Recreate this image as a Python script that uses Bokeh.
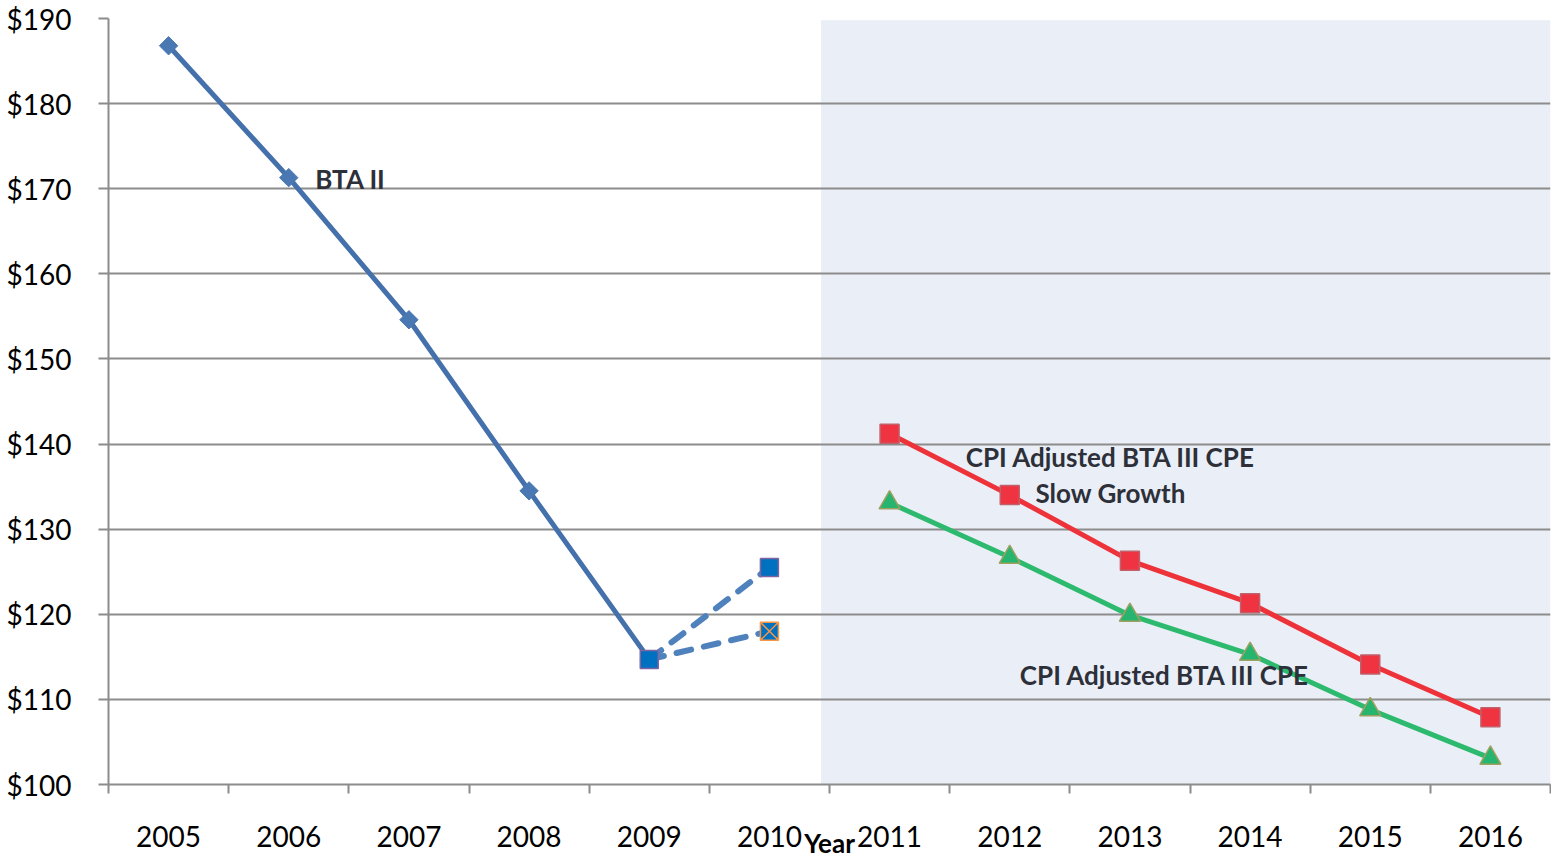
from bokeh.plotting import figure
from bokeh.models import Range1d, FixedTicker, BoxAnnotation, Label
from bokeh.embed import file_html
from bokeh.resources import INLINE

# ---- data ----
YEARS = [2005, 2006, 2007, 2008, 2009, 2010, 2011, 2012, 2013, 2014, 2015, 2016]
BTA2_YEARS = [2005, 2006, 2007, 2008, 2009]
BTA2_VALUES = [186.8, 171.3, 154.6, 134.5, 114.7]
PROJ_UP_YEARS = [2009, 2010]
PROJ_UP_VALUES = [114.7, 125.5]
PROJ_LOW_YEARS = [2009, 2010]
PROJ_LOW_VALUES = [114.7, 118.0]
CPE_YEARS = [2011, 2012, 2013, 2014, 2015, 2016]
SLOW_GROWTH_VALUES = [141.2, 134.0, 126.3, 121.3, 114.1, 107.9]
CPE_VALUES = [133.1, 126.7, 119.9, 115.3, 108.8, 103.1]
Y_TICKS = [100, 110, 120, 130, 140, 150, 160, 170, 180, 190]
Y_TICK_LABELS = ["$100", "$110", "$120", "$130", "$140", "$150", "$160", "$170", "$180", "$190"]
X_TICK_LABELS = [str(y) for y in YEARS]

FONT = "Lato"
GRID = "#8c8c8c"

p = figure(width=1551, height=861, output_backend="svg", toolbar_location=None,
           x_range=Range1d(YEARS[0] - 0.5, YEARS[-1] + 0.5),
           y_range=Range1d(Y_TICKS[0], Y_TICKS[-1]),
           min_border_left=108, min_border_right=1, min_border_top=18, min_border_bottom=77)
p.outline_line_color = None
p.background_fill_color = "white"
p.border_fill_color = "white"

# shaded projection area
shade = BoxAnnotation(left=YEARS[6] - 0.57, top=Y_TICKS[-1] - 0.2, bottom=Y_TICKS[0],
                      fill_color="#eaeff7", fill_alpha=1.0, line_color=None, level="image")
p.add_layout(shade)

# grid
p.xgrid.grid_line_color = None
p.ygrid.ticker = FixedTicker(ticks=Y_TICKS)
p.ygrid.grid_line_color = GRID
p.ygrid.grid_line_width = 2

# y axis
p.yaxis.ticker = FixedTicker(ticks=Y_TICKS)
p.yaxis.major_label_overrides = {t: l for t, l in zip(Y_TICKS, Y_TICK_LABELS)}
p.yaxis.axis_line_color = GRID
p.yaxis.axis_line_width = 2
p.yaxis.major_tick_line_color = GRID
p.yaxis.major_tick_line_width = 2
p.yaxis.major_tick_out = 10
p.yaxis.major_tick_in = 0
p.yaxis.minor_tick_line_color = None
p.yaxis.major_label_standoff = 27
p.yaxis.major_label_text_font = FONT
p.yaxis.major_label_text_font_size = "28px"
p.yaxis.major_label_text_color = "black"

# x axis
p.xaxis.ticker = FixedTicker(ticks=YEARS, minor_ticks=[y - 0.5 for y in YEARS] + [YEARS[-1] + 0.5])
p.xaxis.major_label_overrides = {y: l for y, l in zip(YEARS, X_TICK_LABELS)}
p.xaxis.axis_line_color = GRID
p.xaxis.axis_line_width = 2
p.xaxis.major_tick_line_color = None
p.xaxis.major_tick_out = 0
p.xaxis.major_tick_in = 0
p.xaxis.minor_tick_line_color = GRID
p.xaxis.minor_tick_line_width = 2
p.xaxis.minor_tick_out = 9
p.xaxis.minor_tick_in = 0
p.xaxis.major_label_standoff = 32
p.xaxis.major_label_text_font = FONT
p.xaxis.major_label_text_font_size = "28px"
p.xaxis.major_label_text_color = "black"
p.xaxis.axis_label = "Year"
p.xaxis.axis_label_standoff = -23
p.xaxis.axis_label_text_font = FONT
p.xaxis.axis_label_text_font_style = "bold"
p.xaxis.axis_label_text_font_size = "26px"
p.xaxis.axis_label_text_color = "black"

# series
p.line(BTA2_YEARS, BTA2_VALUES, line_color="#4471ab", line_width=5)
p.scatter(BTA2_YEARS, BTA2_VALUES, marker="square", angle=0.785398, size=13,
          fill_color="#4a78b3", line_color="#4a78b3")

p.line(PROJ_UP_YEARS, PROJ_UP_VALUES, line_color="#4f81bd", line_width=6,
       line_dash="15 13", line_cap="round")
p.line(PROJ_LOW_YEARS, PROJ_LOW_VALUES, line_color="#4f81bd", line_width=6,
       line_dash="15 13", line_cap="round")
p.scatter(PROJ_UP_YEARS, PROJ_UP_VALUES, marker="square", size=18,
          fill_color="#0070c0", line_color="#8064a2", line_width=1.5)
p.scatter(PROJ_LOW_YEARS[1:], PROJ_LOW_VALUES[1:], marker="square_x", size=18,
          fill_color="#0070c0", line_color="#f79646", line_width=1.5)

p.line(CPE_YEARS, SLOW_GROWTH_VALUES, line_color="#ee3239", line_width=5)
p.scatter(CPE_YEARS, SLOW_GROWTH_VALUES, marker="square", size=19,
          fill_color="#ef3340", line_color="#c0606a", line_width=1.5)
p.line(CPE_YEARS, CPE_VALUES, line_color="#2dba6e", line_width=5)
p.scatter(CPE_YEARS, CPE_VALUES, marker="triangle", size=21,
          fill_color="#26b46e", line_color="#a0a060", line_width=1.5)

# annotations
TXT = "#2d3039"
def add_label(x, y, text, align="center", size="26px", color=TXT):
    p.add_layout(Label(x=x, y=y, text=text, text_align=align, text_baseline="middle",
                       text_font=FONT, text_font_style="bold", text_font_size=size,
                       text_color=color))

add_label(2006.22, 171.2, "BTA II", align="left")
add_label(2012.84, 138.5, "CPI Adjusted BTA III CPE")
add_label(2012.84, 134.3, "Slow Growth")
add_label(2013.29, 112.9, "CPI Adjusted BTA III CPE")

open("out.html", "w").write(file_html(p, INLINE))
